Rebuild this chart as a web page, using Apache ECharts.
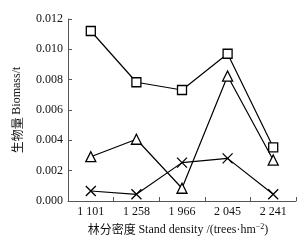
<!DOCTYPE html>
<html><head><meta charset="utf-8">
<script src="https://cdn.jsdelivr.net/npm/echarts@6/dist/echarts.min.js"></script>
<style>html,body{margin:0;padding:0;background:#fff}#c{width:306px;height:243px}</style>
</head><body><div id="c"></div>
<script>
const categories = ['1 101', '1 258', '1 966', '2 045', '2 241'];
const squareSeries = [0.01121, 0.00783, 0.00732, 0.00971, 0.00354];
const triangleSeries = [0.00292, 0.00407, 0.00084, 0.00824, 0.00270];
const crossSeries = [0.00066, 0.00044, 0.00253, 0.00281, 0.00044];
const yTicks = { min: 0, max: 0.012, interval: 0.002 };

const serif = '"Liberation Serif", "Times New Roman", serif';
const cjk = '"Noto Sans CJK SC", sans-serif';
const chart = echarts.init(document.getElementById('c'));
const lineStyle = { color: '#000', width: 1.2 };
const mk = (name, data, symbol, size) => ({
  name, type: 'line', data, symbol, symbolSize: size, showAllSymbol: true,
  lineStyle, itemStyle: { color: '#fff', borderColor: '#000', borderWidth: 1.3 },
  emphasis: { disabled: true }
});
chart.setOption({
  animation: false,
  grid: { left: 68, right: 10, top: 19, bottom: 42 },
  xAxis: {
    type: 'category', data: categories, boundaryGap: true,
    axisLine: { lineStyle: { color: '#555', width: 1 } },
    axisTick: { show: true, inside: true, length: 4, lineStyle: { color: '#555' } },
    axisLabel: { color: '#111', fontFamily: serif, fontSize: 12, margin: 5, interval: 0 },
    name: '林分密度 {s|Stand density /(trees·hm}{sup|−2}{s|)}',
    nameLocation: 'middle', nameGap: 22,
    nameTextStyle: { color: '#111', fontFamily: cjk, fontSize: 12, padding: [0, 8, 0, 0],
      rich: { s: { fontFamily: serif, fontSize: 12, color: '#111' },
              sup: { fontFamily: serif, fontSize: 8, color: '#111', verticalAlign: 'top', padding: [0,0,5,0] } } }
  },
  yAxis: {
    type: 'value', min: yTicks.min, max: yTicks.max, interval: yTicks.interval,
    axisLine: { show: true, lineStyle: { color: '#555', width: 1 } },
    axisTick: { show: true, inside: true, length: 4, lineStyle: { color: '#555' } },
    splitLine: { show: false },
    axisLabel: { color: '#111', fontFamily: serif, fontSize: 12, margin: 5,
      formatter: v => v.toFixed(3) },
    name: '生物量 {s|Biomass/t}', nameLocation: 'middle', nameGap: 45, nameRotate: 90,
    nameTextStyle: { color: '#111', fontFamily: cjk, fontSize: 12,
      rich: { s: { fontFamily: serif, fontSize: 12, color: '#111' } } }
  },
  series: [
    mk('square', squareSeries, 'rect', 9),
    mk('triangle', triangleSeries, 'triangle', 10),
    mk('cross', crossSeries, 'path://M0,0L10,10M10,0L0,10', 10)
  ]
});
</script></body></html>
